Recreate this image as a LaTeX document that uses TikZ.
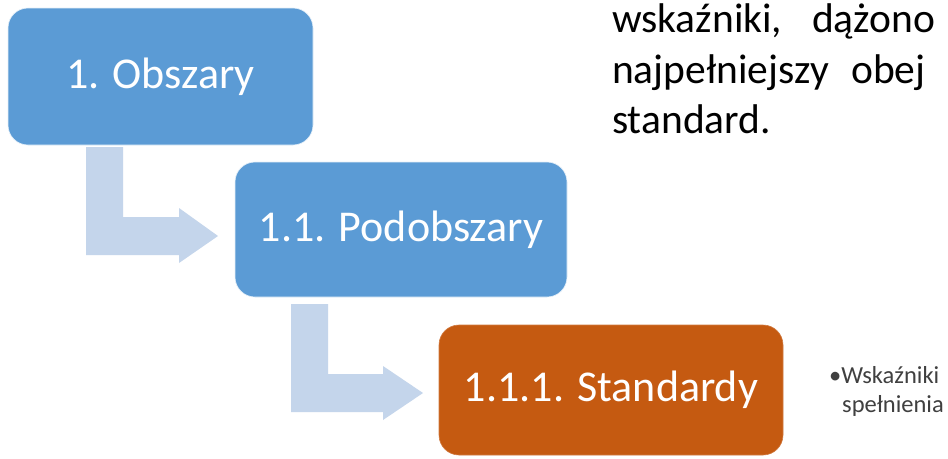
\documentclass[tikz,border=0pt]{standalone}
\usepackage{fontspec}
\setmainfont{Carlito}
\usetikzlibrary{calc}
\definecolor{boxblue}{HTML}{5B9BD5}
\definecolor{boxorange}{HTML}{C55A11}
\definecolor{arrowblue}{HTML}{C4D5EB}
\definecolor{smallgray}{HTML}{404040}
\tikzset{
  levelbox/.style={rounded corners=20pt, minimum width=#1, inner sep=0pt, outer sep=0pt,
    text=white, font=\fontsize{44}{50}\selectfont, draw=white!85!boxblue, line width=0.6pt},
  bluebox/.style={levelbox=#1, fill=boxblue},
  orangebox/.style={levelbox=#1, fill=boxorange, draw=boxorange!80!white},
  bendarrow/.style={fill=arrowblue},
  bodytext/.style={anchor=base west, inner sep=0pt, font=\fontsize{41.5}{50}\selectfont, text=black},
  smalltext/.style={anchor=base west, inner sep=0pt, font=\fontsize{24.5}{29}\selectfont, text=smallgray},
}
\begin{document}
\begin{tikzpicture}[x=1pt,y=-1pt]
\useasboundingbox (0,0) rectangle (948,458);
\fill[white] (0,0) rectangle (948,458);

% boxes
\node[bluebox=305pt, minimum height=137pt] (b1) at (160.5,76.5) {1. Obszary};
\node[bluebox=332pt, minimum height=135pt] (b2) at (401,229.5) {1.1. Podobszary};
\node[orangebox=344pt, minimum height=130pt] (b3) at (611,390) {1.1.1. Standardy};

% bent arrows
\fill[bendarrow] ([shift={(78,2)}]b1.south west) -- ++(37,0) -- ++(0,70) -- ++(56,0)
  -- ++(0,-9) -- ++(39,28) -- ++(-39,27) -- ++(0,-8) -- ++(-93,0) -- cycle;
\fill[bendarrow] ([shift={(56,7)}]b2.south west) -- ++(37,0) -- ++(0,70) -- ++(55,0)
  -- ++(0,-8) -- ++(40,27) -- ++(-40,27) -- ++(0,-8) -- ++(-92,0) -- cycle;

% text on the right, clipped at the page edge
\begin{scope}
\clip (0,0) rectangle (948,458);
\node[bodytext] (t1a) at (612,32) {wskaźniki,};
\node[bodytext] (t1b) at (812,32) {dążono};
\node[bodytext] (t2a) at (612,83) {najpełniejszy};
\node[bodytext] (t2b) at (851,83) {obej};
\node[bodytext] (t3)  at (612,133) {standard.};
\node[smalltext] (s1) at (829,383) {•Wskaźniki};
\node[smalltext] (s2) at (842,412) {spełnienia};
\end{scope}
\end{tikzpicture}
\end{document}
